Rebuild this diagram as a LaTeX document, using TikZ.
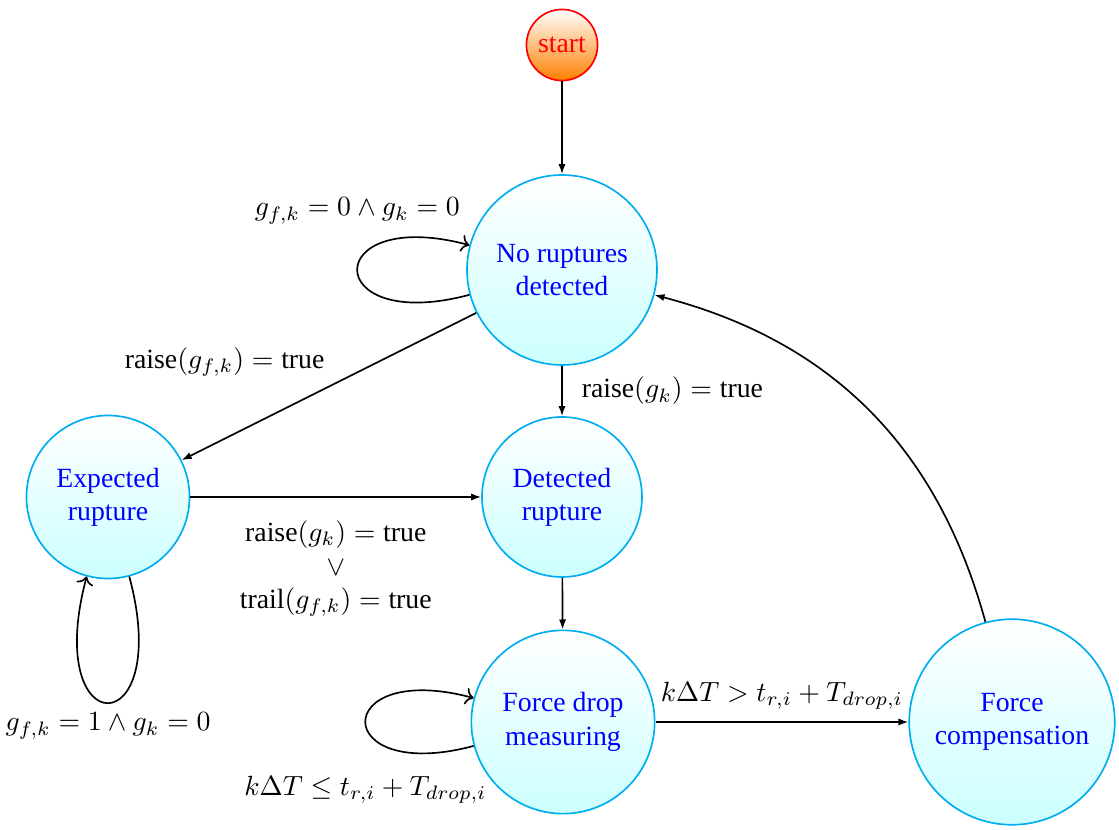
\documentclass[tikz,border=0pt]{standalone}
\usepackage[no-math]{fontspec}
\setmainfont{Liberation Serif}
\usetikzlibrary{arrows.meta}
\tikzset{
  state/.style={
    circle, draw=cyan, semithick, top color=white, bottom color=cyan!20,
    text=blue, align=center, inner sep=1pt
  },
  startnode/.style={
    circle, draw=red, semithick, top color=white, bottom color=orange,
    text=red, inner sep=1pt, minimum size=25.6pt
  },
  arr/.style={-{Latex[length=3.6pt, width=2.6pt]}, semithick},
  looparr/.style={->, semithick},
}

\begin{document}
\begin{tikzpicture}[x=0.36pt, y=-0.36pt]
  \useasboundingbox (0,0) rectangle (1119,830);

  % states
  \node[startnode] (start) at (562,45) {start};
  \node[state, minimum size=68.4pt] (nr) at (562,270) {No ruptures\\detected};
  \node[state, minimum size=58.7pt] (er) at (108,497) {Expected\\rupture};
  \node[state, minimum size=57.6pt] (dr) at (562,497) {Detected\\rupture};
  \node[state, minimum size=66pt] (fd) at (563,722) {Force drop\\measuring};
  \node[state, minimum size=74pt] (fc) at (1012,722) {Force\\compensation};

  % transitions
  \draw[arr] (start) -- (nr);
  \draw[looparr] (nr) to[loop left] node[above=13pt] (lnr)
    {$g_{f,k}=0 \land g_k=0$} (nr);
  \draw[arr] (nr) -- node[above left, xshift=2pt] (lnrer)
    {$\textrm{raise}(g_{f,k})=\textrm{true}$} (er);
  \draw[arr] (nr) -- node[right, xshift=3.5pt] (lnrdr)
    {$\textrm{raise}(g_k)=\textrm{true}$} (dr);
  \draw[arr] (er) -- node[below=5pt, align=center] (lerdr)
    {$\textrm{raise}(g_k)=\textrm{true}$\\$\lor$\\$\textrm{trail}(g_{f,k})=\textrm{true}$} (dr);
  \draw[looparr] (er) to[loop below, looseness=10.5] node[below] (ler)
    {$g_{f,k}=1 \land g_k=0$} (er);
  \draw[arr] (dr) -- (fd);
  \draw[looparr] (fd) to[loop left] node[below=16pt] (lfd)
    {$k\Delta T \le t_{r,i}+T_{drop,i}$} (fd);
  \draw[arr] (fd) -- node[above=1pt] (lfdfc)
    {$k\Delta T > t_{r,i}+T_{drop,i}$} (fc);
  \draw[arr] (fc) to[bend right=30] (nr);
\end{tikzpicture}
\end{document}
